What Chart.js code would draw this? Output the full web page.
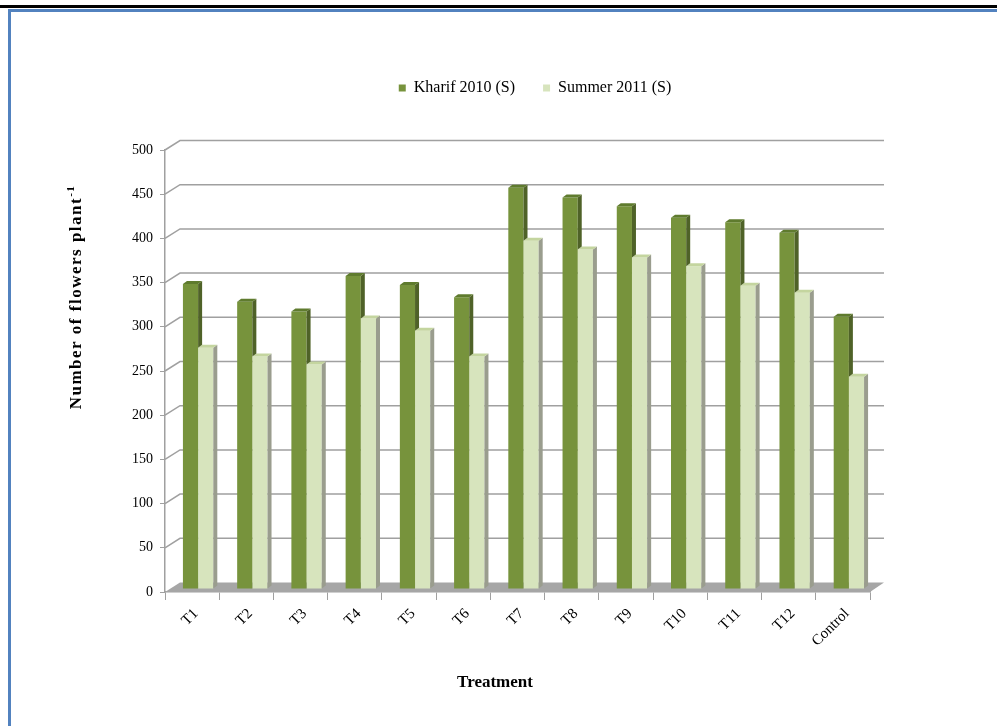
<!DOCTYPE html>
<html>
<head>
<meta charset="utf-8">
<script src="https://cdn.jsdelivr.net/npm/chart.js@4"></script>
<style>
  html, body { margin: 0; padding: 0; background: #fff; }
  #page { position: relative; width: 997px; height: 726px; overflow: hidden; }
  #topline { position: absolute; left: 0; top: 5px; width: 997px; height: 3px; background: #000; }
  #frame { position: absolute; left: 8px; top: 9px; width: 1000px; height: 800px;
           border-top: 3px solid #5282bf; border-left: 3px solid #5282bf; }
  #chartBox { position: absolute; left: 0; top: 0; width: 997px; height: 726px; }
</style>
</head>
<body>
<div id="page">
  <div id="topline"></div>
  <div id="frame"></div>
  <div id="chartBox"><canvas id="flowers"></canvas></div>
</div>
<script>
const treatments = ['T1', 'T2', 'T3', 'T4', 'T5', 'T6', 'T7', 'T8', 'T9', 'T10', 'T11', 'T12', 'Control'];
const kharif2010 = [345, 325, 314, 354, 344, 330, 454, 443, 433, 420, 415, 403, 308];
const summer2011 = [273, 263, 254, 306, 292, 263, 394, 384, 375, 365, 343, 335, 240];
const yTicks = [0, 50, 100, 150, 200, 250, 300, 350, 400, 450, 500];

const serif = '"Liberation Serif", "Times New Roman", serif';

// fake 3D: back wall grid lines, floor, and bar side/top faces
const depth = { dx: 15, dy: 9.5 };
const barShift = { dx: 6, dy: -3 };
const faceColors = [
  { side: '#4f6228', top: '#5f7b2e' },
  { side: '#9a9d8e', top: '#c4d59f' }
];

const walls = {
  id: 'walls',
  beforeDatasetsDraw(chart) {
    const { ctx, chartArea: a, scales: { y } } = chart;
    ctx.save();
    // floor
    ctx.fillStyle = '#a6a6a6';
    ctx.beginPath();
    ctx.moveTo(a.left, a.bottom);
    ctx.lineTo(a.left + depth.dx, a.bottom - depth.dy);
    ctx.lineTo(a.right + 14, a.bottom - depth.dy);
    ctx.lineTo(a.right, a.bottom);
    ctx.closePath();
    ctx.fill();
    // grid lines on the left and back wall
    ctx.strokeStyle = '#a0a0a0';
    ctx.lineWidth = 1.5;
    yTicks.forEach(v => {
      if (v === 0) return;
      const py = y.getPixelForValue(v);
      ctx.beginPath();
      ctx.moveTo(a.left, py);
      ctx.lineTo(a.left + depth.dx, py - depth.dy);
      ctx.lineTo(a.right + 14, py - depth.dy);
      ctx.stroke();
    });
    ctx.restore();
  },
  beforeDatasetDraw(chart) {
    chart.ctx.save();
    chart.ctx.translate(barShift.dx, barShift.dy);
  },
  afterDatasetDraw(chart, args) {
    const ctx = chart.ctx;
    const c = faceColors[args.index];
    const d = 4, e = 3;
    const other = chart.getDatasetMeta(1).data;
    args.meta.data.forEach((bar, i) => {
      const l = bar.x - bar.width / 2, r = bar.x + bar.width / 2;
      // the Kharif side face is hidden below the Summer bar next to it
      const low = args.index === 0 ? Math.min(bar.base, other[i].y) : bar.base;
      ctx.fillStyle = c.side;
      ctx.beginPath();
      ctx.moveTo(r, bar.y);
      ctx.lineTo(r + d, bar.y - e);
      ctx.lineTo(r + d, low - e);
      ctx.lineTo(r, low);
      ctx.closePath();
      ctx.fill();
      ctx.fillStyle = c.top;
      ctx.beginPath();
      ctx.moveTo(l, bar.y);
      ctx.lineTo(l + d, bar.y - e);
      ctx.lineTo(r + d, bar.y - e);
      ctx.lineTo(r, bar.y);
      ctx.closePath();
      ctx.fill();
    });
    ctx.restore();
  },
  afterDraw(chart) {
    const ctx = chart.ctx;
    ctx.save();
    ctx.fillStyle = '#000';
    ctx.textBaseline = 'middle';
    // x title
    ctx.font = 'bold 17px ' + serif;
    ctx.textAlign = 'center';
    ctx.fillText('Treatment', 495, 683);
    // y title with superscript
    ctx.translate(77, 297);
    ctx.rotate(-Math.PI / 2);
    ctx.letterSpacing = '1.5px';
    ctx.font = 'bold 17px ' + serif;
    const main = 'Number of flowers plant';
    const w1 = ctx.measureText(main).width;
    ctx.font = 'bold 11px ' + serif;
    const w2 = ctx.measureText('-1').width;
    const x0 = -(w1 + w2) / 2;
    ctx.textAlign = 'left';
    ctx.font = 'bold 17px ' + serif;
    ctx.fillText(main, x0, 0);
    ctx.font = 'bold 11px ' + serif;
    ctx.fillText('-1', x0 + w1, -6);
    ctx.restore();
  }
};

const legendSpace = {
  id: 'legendSpace',
  beforeInit(chart) {
    const fit = chart.legend.fit;
    chart.legend.fit = function () {
      fit.bind(chart.legend)();
      this.height = 98;
    };
  },
  afterLayout(chart) {
    chart.legend.left += 200;
  }
};

new Chart(
  document.getElementById('flowers'),
  {
    type: 'bar',
    plugins: [walls, legendSpace],
    data: {
      labels: treatments,
      datasets: [
        {
          label: 'Kharif 2010 (S)',
          data: kharif2010,
          backgroundColor: '#77933c',
          clip: false
        },
        {
          label: 'Summer 2011 (S)',
          data: summer2011,
          backgroundColor: '#d7e4bd',
          clip: false
        }
      ]
    },
    options: {
      responsive: true,
      maintainAspectRatio: false,
      animation: false,
      layout: { padding: { top: 52, left: 0, right: 127, bottom: 0 } },
      datasets: {
        bar: { categoryPercentage: 0.56, barPercentage: 1.0, borderWidth: 0 }
      },
      plugins: {
        legend: {
          display: true,
          position: 'top',
          labels: {
            boxWidth: 7,
            boxHeight: 7,
            padding: 28,
            color: '#000',
            font: { family: serif, size: 16 }
          }
        },
        tooltip: { enabled: false }
      },
      scales: {
        x: {
          afterFit(scale) { scale.height = 134; },
          grid: { drawOnChartArea: false, drawTicks: true, tickLength: 8, color: '#a0a0a0', offset: true },
          border: { color: '#a0a0a0', width: 1.5 },
          ticks: {
            color: '#000',
            font: { family: serif, size: 15 },
            minRotation: 45,
            maxRotation: 45,
            padding: 5,
            labelOffset: 4
          }
        },
        y: {
          min: 0,
          max: 500,
          afterFit(scale) { scale.width = 165; },
          afterBuildTicks(scale) { scale.ticks = yTicks.map(v => ({ value: v })); },
          grid: { drawOnChartArea: false, drawTicks: true, tickLength: 5, color: '#a0a0a0' },
          border: { color: '#a0a0a0', width: 1.5 },
          ticks: {
            color: '#000',
            font: { family: serif, size: 14 },
            padding: 7
          }
        }
      }
    }
  }
);
</script>
</body>
</html>
